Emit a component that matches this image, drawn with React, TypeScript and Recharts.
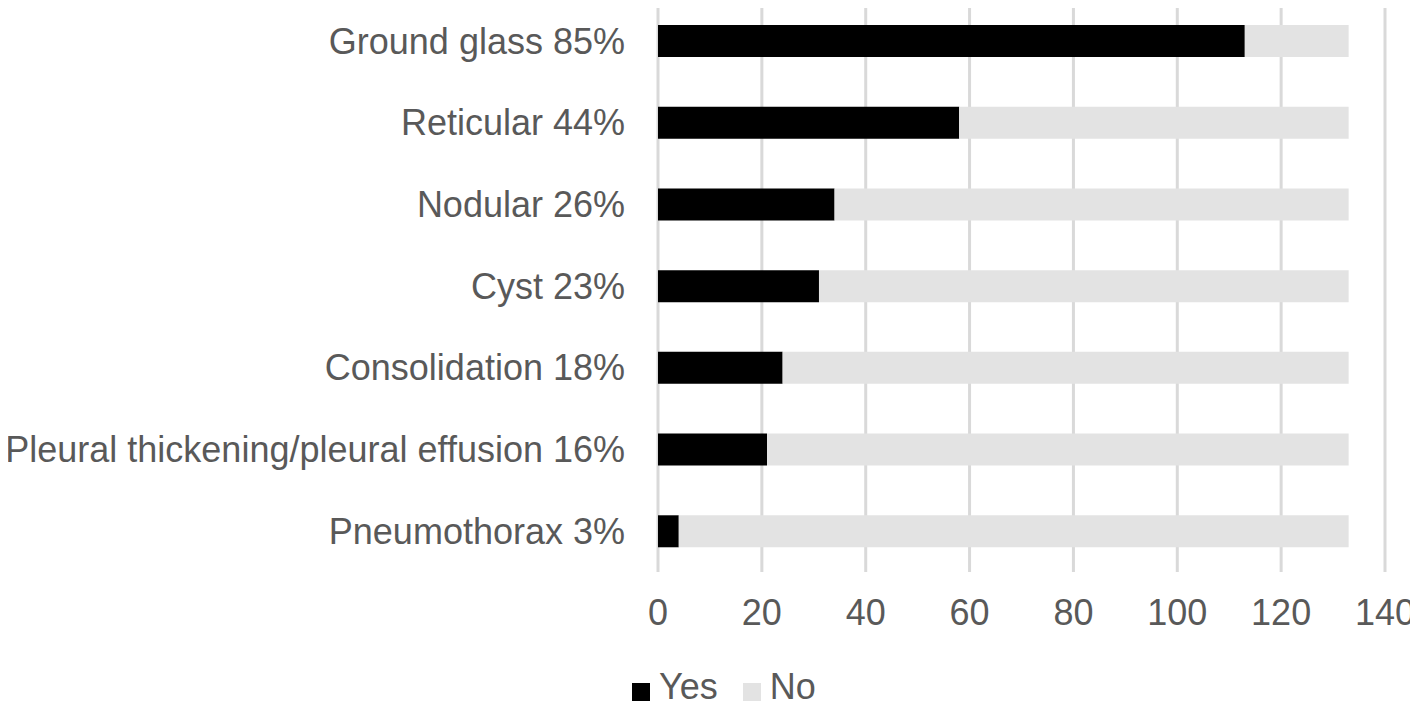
import { Bar, BarChart, CartesianGrid, Legend, XAxis, YAxis } from 'recharts';

const categories = [
  'Ground glass 85%',
  'Reticular 44%',
  'Nodular 26%',
  'Cyst 23%',
  'Consolidation 18%',
  'Pleural thickening/pleural effusion 16%',
  'Pneumothorax 3%',
];
const yesValues = [113, 58, 34, 31, 24, 21, 4];
const noValues = [20, 75, 99, 102, 109, 112, 129];
const xTicks = [0, 20, 40, 60, 80, 100, 120, 140];
const seriesNames = ['Yes', 'No'];
const seriesColors = ['#000000', '#e3e3e3'];

const FONT = '"Liberation Sans", Arial, sans-serif';
const TEXT = '#595959';

function LegendContent() {
  return (
    <div
      style={{
        display: 'flex',
        justifyContent: 'center',
        alignItems: 'center',
        height: 38,
        fontSize: 36,
        fontFamily: FONT,
        color: TEXT,
        paddingLeft: 30,
      }}
    >
      {seriesNames.map((name, i) => (
        <span key={name} style={{ display: 'flex', alignItems: 'center', marginRight: i === 0 ? 25 : 0 }}>
          <span
            style={{
              display: 'inline-block',
              width: 18,
              height: 18,
              background: seriesColors[i],
              marginRight: 9,
              marginTop: 10,
            }}
          />
          {name}
        </span>
      ))}
    </div>
  );
}

export default function App() {
  const data = categories.map((name, i) => ({
    name,
    yes: yesValues[i],
    no: noValues[i],
  }));

  return (
    <div style={{ margin: '-8px 0 0 -8px', width: 1418, height: 706, background: '#fff' }}>
      <BarChart
        layout='vertical'
        width={1418}
        height={706}
        data={data}
        margin={{ top: 0, right: 33, bottom: 40, left: 0 }}
        barCategoryGap={0}
        style={{ fontFamily: FONT }}
      >
        <CartesianGrid horizontal={false} stroke='#d9d9d9' strokeWidth={3} />
        <XAxis
          type='number'
          domain={[0, 140]}
          ticks={xTicks}
          axisLine={false}
          tickLine={false}
          tickMargin={21}
          height={56}
          tick={{ fill: TEXT, fontSize: 36 }}
        />
        <YAxis
          type='category'
          dataKey='name'
          width={658}
          axisLine={false}
          tickLine={false}
          tickMargin={27}
          tick={{ fill: TEXT, fontSize: 36 }}
        />
        <Legend
          verticalAlign='bottom'
          content={<LegendContent />}
          wrapperStyle={{ top: 668, left: 0, width: 1418, height: 38 }}
        />
        <Bar dataKey='yes' name='Yes' stackId='a' fill={seriesColors[0]} barSize={32} isAnimationActive={false} />
        <Bar dataKey='no' name='No' stackId='a' fill={seriesColors[1]} barSize={32} isAnimationActive={false} />
      </BarChart>
    </div>
  );
}
